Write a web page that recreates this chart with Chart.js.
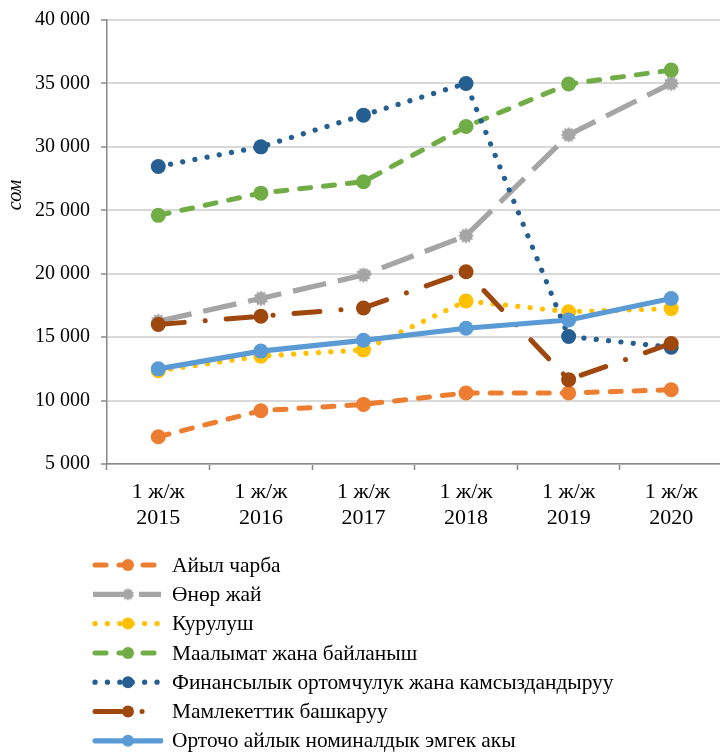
<!DOCTYPE html>
<html lang="ky">
<head>
<meta charset="utf-8">
<title>Орточо айлык номиналдык эмгек акы</title>
<script src="https://cdn.jsdelivr.net/npm/chart.js@4.4.1/dist/chart.umd.min.js"></script>
<style>
  html, body { margin: 0; padding: 0; background: #fff; overflow: hidden; }
  #wrap { width: 730px; height: 754px; }
</style>
</head>
<body>
<div id="wrap"><canvas id="chart" width="730" height="754"></canvas></div>
<script>
// Periods (first half-year of each year)
const periodPrefix = '1 ж/ж';
const years = ['2015', '2016', '2017', '2018', '2019', '2020'];

// Average monthly nominal wage by sector, сом
const agriculture  = [7150, 9200, 9700, 10600, 10600, 10850];
const industry     = [16250, 18050, 19900, 23000, 30950, 35000];
const construction = [12350, 13500, 14000, 17850, 17000, 17250];
const ictSector    = [24600, 26350, 27250, 31600, 34950, 36050];
const finance      = [28450, 30000, 32500, 35000, 15050, 14200];
const publicAdmin  = [16000, 16650, 17300, 20150, 11650, 14500];
const averageWage  = [12500, 13900, 14750, 15700, 16350, 18050];

// Y axis range and tick step
const yMin = 5000;
const yMax = 40000;
const yStep = 5000;

const seriesNames = [
  'Айыл чарба',
  'Өнөр жай',
  'Курулуш',
  'Маалымат жана байланыш',
  'Финансылык ортомчулук жана камсыздандыруу',
  'Мамлекеттик башкаруу',
  'Орточо айлык номиналдык эмгек акы'
];

const FONT = '"Liberation Serif", "Times New Roman", serif';

// Spiky marker used for the industry series
function makeStar(outer, inner, spikes, color) {
  const size = Math.ceil(outer * 2 + 2);
  const c = document.createElement('canvas');
  c.width = size; c.height = size;
  const g = c.getContext('2d');
  g.translate(size / 2, size / 2);
  g.beginPath();
  for (let i = 0; i < spikes * 2; i++) {
    const r = i % 2 === 0 ? outer : inner;
    const a = (Math.PI * i) / spikes - Math.PI / 2;
    const x = Math.cos(a) * r, y = Math.sin(a) * r;
    if (i === 0) g.moveTo(x, y); else g.lineTo(x, y);
  }
  g.closePath();
  g.fillStyle = color;
  g.fill();
  return c;
}
const starMarker = makeStar(8, 6, 12, '#A5A5A5');
const starMarkerSmall = makeStar(6.5, 4.8, 10, '#A5A5A5');

const styles = [
  { color: '#ED7D31', width: 5,   dash: [11, 13],     cap: 'round', point: 'circle' },
  { color: '#A5A5A5', width: 5.2, dash: [34, 12],     cap: 'butt',  point: starMarker },
  { color: '#FFC000', width: 5.2, dash: [0.1, 12.3],  cap: 'round', point: 'circle' },
  { color: '#70AD47', width: 5,   dash: [11, 13],     cap: 'round', point: 'circle' },
  { color: '#255E91', width: 5.2, dash: [0.1, 12.3],  cap: 'round', point: 'circle' },
  { color: '#9E480E', width: 5,   dash: [26, 21, 0.1, 21], cap: 'round', point: 'circle' },
  { color: '#5B9BD5', width: 5.2, dash: [],           cap: 'round', point: 'circle' }
];

const seriesValues = [agriculture, industry, construction, ictSector, finance, publicAdmin, averageWage];

const datasets = seriesValues.map((values, i) => ({
  label: seriesNames[i],
  data: values,
  borderColor: styles[i].color,
  backgroundColor: styles[i].color,
  borderWidth: styles[i].width,
  borderDash: styles[i].dash,
  borderCapStyle: styles[i].cap,
  borderJoinStyle: 'round',
  pointStyle: styles[i].point,
  pointRadius: 7.5,
  pointBorderWidth: 0,
  pointBackgroundColor: styles[i].color,
  pointBorderColor: styles[i].color,
  tension: 0,
  fill: false,
  order: seriesValues.length - i
}));

const fmt = v => String(v).replace(/\B(?=(\d{3})+(?!\d))/g, ' ');

// Rotated axis caption
const axisCaption = {
  id: 'axisCaption',
  afterDraw(chart) {
    const ctx = chart.ctx;
    ctx.save();
    ctx.translate(16, 195);
    ctx.rotate(-Math.PI / 2);
    ctx.font = 'italic 20px ' + FONT;
    ctx.fillStyle = '#000';
    ctx.textAlign = 'center';
    ctx.textBaseline = 'middle';
    ctx.fillText('сом', 0, 0);
    ctx.restore();
  }
};

// Vertical legend below the plot: dashed sample line, marker, label
const stackedLegend = {
  id: 'stackedLegend',
  afterDraw(chart) {
    const ctx = chart.ctx;
    const x0 = 93, x1 = 161, mx = 128, tx = 172;
    chart.data.datasets.forEach((ds, i) => {
      const y = 565 + 29.3 * i;
      ctx.save();
      ctx.beginPath();
      ctx.rect(x0 - 4, y - 10, x1 - x0 + 6, 20);
      ctx.clip();
      ctx.strokeStyle = ds.borderColor;
      ctx.lineWidth = ds.borderWidth;
      ctx.lineCap = ds.borderCapStyle;
      ctx.setLineDash(ds.borderDash);
      ctx.beginPath();
      ctx.moveTo(x0 + (ds.borderCapStyle === 'round' ? 2 : 0), y);
      ctx.lineTo(x1, y);
      ctx.stroke();
      ctx.restore();

      ctx.save();
      if (typeof ds.pointStyle === 'string') {
        ctx.fillStyle = ds.pointBackgroundColor;
        ctx.beginPath();
        ctx.arc(mx, y, 6, 0, Math.PI * 2);
        ctx.fill();
      } else {
        ctx.drawImage(starMarkerSmall, mx - starMarkerSmall.width / 2, y - starMarkerSmall.height / 2);
      }
      ctx.fillStyle = '#000';
      ctx.font = '21.4px ' + FONT;
      ctx.textAlign = 'left';
      ctx.textBaseline = 'middle';
      ctx.fillText(ds.label, tx, y + 1);
      ctx.restore();
    });
  }
};

new Chart(document.getElementById('chart'), {
  type: 'line',
  data: {
    labels: years.map(y => [periodPrefix, y]),
    datasets
  },
  options: {
    responsive: false,
    animation: false,
    devicePixelRatio: 1,
    layout: { padding: { top: 20, left: 0, right: 3, bottom: 200 } },
    plugins: {
      legend: { display: false },
      tooltip: { enabled: false },
      title: { display: false }
    },
    scales: {
      x: {
        offset: true,
        grid: {
          offset: true,
          drawOnChartArea: false,
          drawTicks: true,
          tickLength: 6,
          tickColor: '#898989',
          tickWidth: 1.5
        },
        border: { display: true, color: '#898989', width: 1.5 },
        ticks: {
          font: { family: FONT, size: 22 },
          color: '#000',
          padding: 9,
          maxRotation: 0,
          autoSkip: false
        },
        afterFit(scale) { scale.height = 90; }
      },
      y: {
        min: yMin,
        max: yMax,
        grid: {
          color: '#D9D9D9',
          lineWidth: 2,
          drawTicks: true,
          tickLength: 6,
          tickColor: '#898989',
          tickWidth: 1.5
        },
        border: { display: true, color: '#898989', width: 1.5 },
        ticks: {
          stepSize: yStep,
          font: { family: FONT, size: 20 },
          color: '#000',
          padding: 11,
          callback: v => fmt(v)
        },
        afterFit(scale) {
          scale.width = 107;
          scale.paddingTop = 0;
          scale.paddingBottom = 0;
        }
      }
    }
  },
  plugins: [axisCaption, stackedLegend]
});
</script>
</body>
</html>
